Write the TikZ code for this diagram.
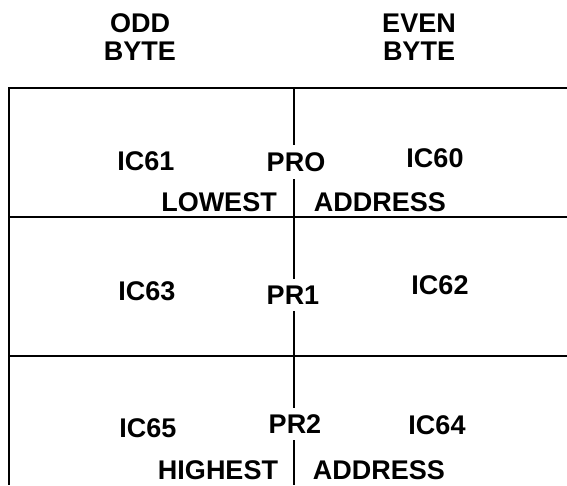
\documentclass[tikz,border=0pt]{standalone}
\usepackage{fontspec}
\setmainfont{Liberation Sans}
\begin{document}
\begin{tikzpicture}[x=1pt,y=1pt,
  lbl/.style={font=\fontsize{27}{30}\selectfont\bfseries, inner sep=0pt, text=black},
  prlbl/.style={lbl, fill=white, inner ysep=7pt, inner xsep=1pt},
  grid/.style={line width=1.8pt, black}]
\useasboundingbox (0,0) rectangle (567,-485);
% frame corners
\coordinate (tl) at (9,-88);
\coordinate (tr) at (567,-88);
\coordinate (bl) at (9,-485);
\coordinate (m1l) at (9,-217);
\coordinate (m1r) at (567,-217);
\coordinate (m2l) at (9,-356);
\coordinate (m2r) at (567,-356);
\coordinate (ct) at (294,-88);
\coordinate (cb) at (294,-485);
\draw[grid] (tr) -- (tl) -- (bl);
\draw[grid] (m1l) -- (m1r);
\draw[grid] (m2l) -- (m2r);
\draw[grid] (ct) -- (cb);
% headers
\node[lbl, align=center] (odd) at (140,-37) {ODD\\[-2pt]BYTE};
\node[lbl, align=center] (even) at (419,-37) {EVEN\\[-2pt]BYTE};
% row 1
\node[lbl] (ic61) at (146,-161) {IC61};
\node[prlbl] (pr0) at (296,-162) {PRO};
\node[lbl] (ic60) at (435,-158) {IC60};
\node[lbl] (low) at (219,-202) {LOWEST};
\node[lbl] (adr1) at (380,-202) {ADDRESS};
% row 2
\node[lbl] (ic63) at (147,-291) {IC63};
\node[prlbl] (pr1) at (293,-295) {PR1};
\node[lbl] (ic62) at (440,-285) {IC62};
% row 3
\node[lbl] (ic65) at (148,-428) {IC65};
\node[prlbl] (pr2) at (295,-424) {PR2};
\node[lbl] (ic64) at (437,-425) {IC64};
\node[lbl] (high) at (218,-470) {HIGHEST};
\node[lbl] (adr2) at (379,-470) {ADDRESS};
\end{tikzpicture}
\end{document}
